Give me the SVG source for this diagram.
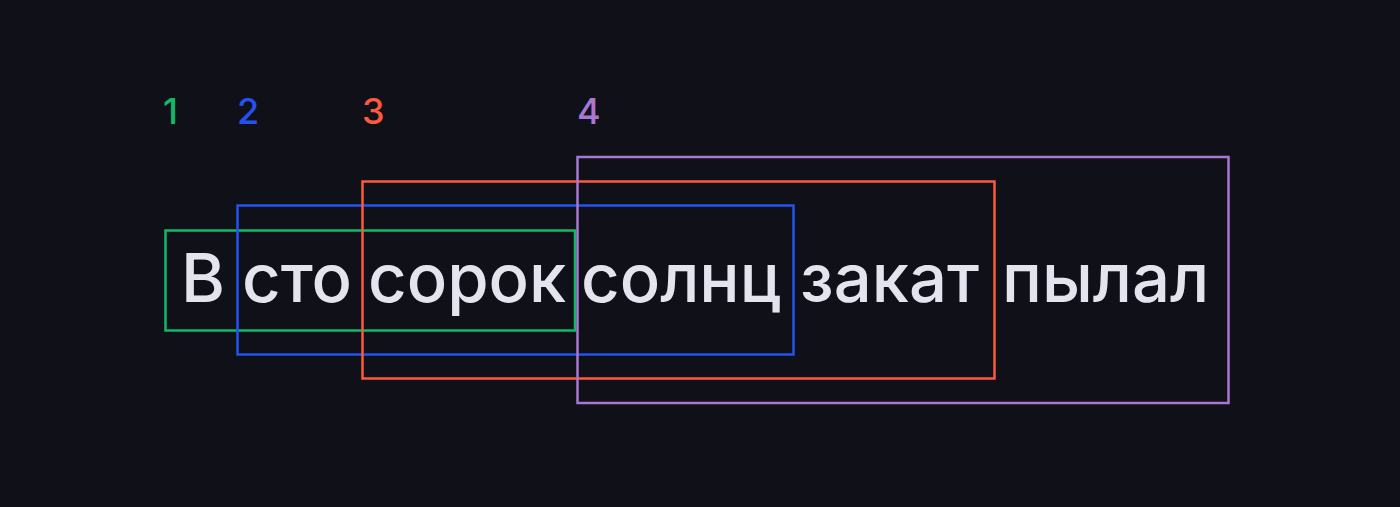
<svg xmlns="http://www.w3.org/2000/svg" width="1400" height="507" viewBox="0 0 1400 507">
<style>
.w{font-family:Inter,"Noto Sans","Liberation Sans",sans-serif;font-size:67px;font-weight:500;fill:#e4e4ee}
.n{font-family:Inter,"Noto Sans","Liberation Sans",sans-serif;font-size:36px;font-weight:500}
.b{fill:none;stroke-width:2.5}
</style>
<rect width="1400" height="507" fill="#0f1018"/>
<g id="words">
<text class="w" x="181" y="302">В</text>
<text class="w" x="242" y="302">сто</text>
<text class="w" x="368" y="302">сорок</text>
<text class="w" x="581" y="302">солнц</text>
<text class="w" x="800" y="302">закат</text>
<text class="w" x="1002" y="302">пылал</text>
</g>
<g id="span1">
<rect class="b" x="165.5" y="230.5" width="409.5" height="100" stroke="#12b86a"/>
<text class="n" x="163" y="124" fill="#12b86a">1</text>
</g>
<g id="span2">
<rect class="b" x="237.5" y="205.5" width="556" height="149" stroke="#2452f2"/>
<text class="n" x="237" y="124" fill="#2452f2">2</text>
</g>
<g id="span3">
<rect class="b" x="362.5" y="181.5" width="632" height="197" stroke="#fb5a3e"/>
<text class="n" x="362" y="124" fill="#fb5a3e">3</text>
</g>
<g id="span4">
<rect class="b" x="577.5" y="157" width="651" height="246" stroke="#a877d2"/>
<text class="n" x="577" y="124" fill="#a877d2">4</text>
</g>
</svg>
